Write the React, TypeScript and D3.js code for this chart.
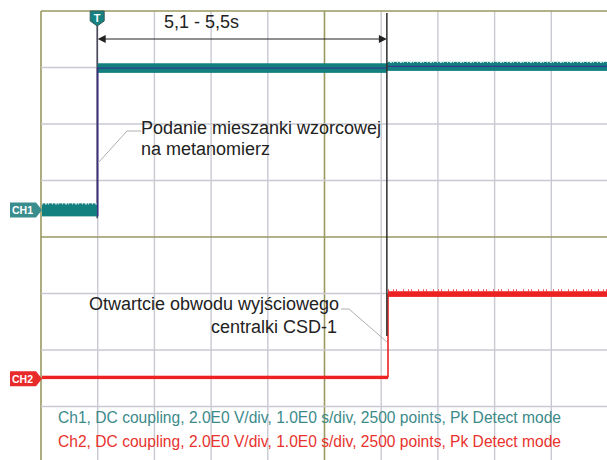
import React, { useEffect, useRef } from 'react';
import * as d3 from 'd3';

// time base: 1 s/div, 10 divisions; vertical: 2 V/div, 8 divisions
const timeDomain = [0, 10];
const divDomain = [0, 8];
const voltsPerDiv = 2;

// channel ground positions (in divisions from top)
const ch1Offset = 3.52;
const ch2Offset = 6.51;

// CH1 trace, Pk Detect envelope per segment
const ch1Edges = [0, 1.0, 6.1, 10];
const ch1Level = [0.0, 5.02, 5.08];
const ch1Noise = [0.23, 0.17, 0.16];

// CH2 trace
const ch2Edges = [0, 6.12, 10];
const ch2Level = [0.05, 3.0];
const ch2Noise = [0.06, 0.1];

const triggerTime = 1.0;
const cursorTime = 6.1;
const cursorLabel = '5,1 - 5,5s';

const note1 = ['Podanie mieszanki wzorcowej', 'na metanomierz'];
const note2 = ['Otwartcie obwodu wyjściowego', 'centralki CSD-1'];
const infoLines = [
  'Ch1, DC coupling, 2.0E0 V/div, 1.0E0 s/div, 2500 points, Pk Detect mode',
  'Ch2, DC coupling, 2.0E0 V/div, 1.0E0 s/div, 2500 points, Pk Detect mode',
];

const TEAL = '#12807f';
const RED = '#ec2222';
const GRID = '#c9c9d2';
const OLIVE = '#999960';
const FONT = 'Arial, "Liberation Sans", sans-serif';

export default function App() {
  const ref = useRef<SVGSVGElement>(null);

  useEffect(() => {
    const svg = d3.select(ref.current);
    svg.selectAll('*').remove();

    const x = d3.scaleLinear().domain(timeDomain).range([41, 608]);
    const yDiv = d3.scaleLinear().domain(divDomain).range([11, 463]);
    const y1 = (v: number) => yDiv(ch1Offset - v / voltsPerDiv);
    const y2 = (v: number) => yDiv(ch2Offset - v / voltsPerDiv);

    // grid
    const g = svg.append('g');
    d3.range(0, 11).forEach(k => {
      g.append('line')
        .attr('x1', x(k)).attr('x2', x(k))
        .attr('y1', yDiv(0)).attr('y2', yDiv(8))
        .attr('stroke', k === 0 || k === 5 ? OLIVE : GRID)
        .attr('stroke-width', k === 0 || k === 5 ? 1.6 : 1.4);
    });
    d3.range(0, 9).forEach(k => {
      g.append('line')
        .attr('x1', x(0)).attr('x2', x(10))
        .attr('y1', yDiv(k)).attr('y2', yDiv(k))
        .attr('stroke', k === 0 || k === 4 ? OLIVE : GRID)
        .attr('stroke-width', k === 0 || k === 4 ? 1.6 : 1.4);
    });

    // cursor line at trigger
    svg.append('line')
      .attr('x1', x(triggerTime) - 0.5).attr('x2', x(triggerTime) - 0.5)
      .attr('y1', yDiv(0) + 14).attr('y2', y1(-0.3))
      .attr('stroke', '#4a4a5a').attr('stroke-width', 1.6);

    // CH1 trace envelope
    ch1Level.forEach((lv, i) => {
      const x0 = x(ch1Edges[i]) + (i === 0 ? 1 : 0);
      const x1 = x(ch1Edges[i + 1]);
      const top = y1(lv + ch1Noise[i]);
      const bot = y1(lv - ch1Noise[i]);
      svg.append('rect')
        .attr('x', x0).attr('y', top)
        .attr('width', x1 - x0).attr('height', bot - top)
        .attr('fill', TEAL);
      svg.append('line')
        .attr('x1', x0).attr('x2', x1)
        .attr('y1', top + 0.5).attr('y2', top + 0.5)
        .attr('stroke', '#ffffff').attr('stroke-width', 1.2)
        .attr('stroke-dasharray', '1 2 2 1 1 3')
        .attr('opacity', i === 1 ? 0 : 0.8);
      if (i > 0) {
        svg.append('line')
          .attr('x1', x0).attr('x2', x1)
          .attr('y1', y1(lv)).attr('y2', y1(lv))
          .attr('stroke', '#303a90').attr('stroke-width', 1.2);
      }
    });
    // CH1 rising edge
    svg.append('line')
      .attr('x1', x(ch1Edges[1])).attr('x2', x(ch1Edges[1]))
      .attr('y1', y1(ch1Level[0] - ch1Noise[0])).attr('y2', y1(ch1Level[1]))
      .attr('stroke', '#3a2f80').attr('stroke-width', 1.6);

    // CH2 trace
    ch2Level.forEach((lv, i) => {
      const x0 = x(ch2Edges[i]) + (i === 0 ? 1 : 0);
      const x1 = x(ch2Edges[i + 1]);
      const top = y2(lv + ch2Noise[i]);
      const bot = y2(lv - ch2Noise[i]);
      svg.append('rect')
        .attr('x', x0).attr('y', top)
        .attr('width', x1 - x0).attr('height', bot - top)
        .attr('fill', RED);
      if (i > 0) {
        svg.append('line')
          .attr('x1', x0).attr('x2', x1)
          .attr('y1', top - 1).attr('y2', top - 1)
          .attr('stroke', RED).attr('stroke-width', 2)
          .attr('stroke-dasharray', '1 4 1 2 1 6')
          .attr('opacity', 0.8);
      }
    });
    svg.append('line')
      .attr('x1', x(ch2Edges[1])).attr('x2', x(ch2Edges[1]))
      .attr('y1', y2(ch2Level[0])).attr('y2', y2(ch2Level[1]))
      .attr('stroke', RED).attr('stroke-width', 1.6);

    // second cursor
    svg.append('line')
      .attr('x1', x(cursorTime)).attr('x2', x(cursorTime))
      .attr('y1', yDiv(0) + 2).attr('y2', yDiv(5.75))
      .attr('stroke', '#2e2e2e').attr('stroke-width', 1.5);

    // measurement arrow
    const ay = 39;
    const ax0 = x(triggerTime);
    const ax1 = x(cursorTime);
    svg.append('line')
      .attr('x1', ax0 + 6).attr('x2', ax1 - 6)
      .attr('y1', ay).attr('y2', ay)
      .attr('stroke', '#222').attr('stroke-width', 1.2);
    svg.append('path')
      .attr('d', `M${ax0},${ay} l8,-4 l0,8 Z M${ax1},${ay} l-8,-4 l0,8 Z`)
      .attr('fill', '#222');
    svg.append('text')
      .attr('x', 164).attr('y', 27.5)
      .attr('font-family', FONT).attr('font-size', 18).attr('fill', '#222')
      .text(cursorLabel);

    // trigger marker
    const tx = x(triggerTime) - 0.5;
    svg.append('path')
      .attr('d', `M${tx - 7},11 L${tx + 7},11 L${tx + 7},21 L${tx},26 L${tx - 7},21 Z`)
      .attr('fill', '#168282').attr('stroke', '#3b5a5a').attr('stroke-width', 1);
    svg.append('text')
      .attr('x', tx).attr('y', 22).attr('text-anchor', 'middle')
      .attr('font-family', FONT).attr('font-size', 11).attr('font-weight', 'bold')
      .attr('fill', '#fff').text('T');

    // channel tags
    const tag = (cy: number, fill: string, label: string) => {
      svg.append('path')
        .attr('d', `M10,${cy - 7.5} L36,${cy - 7.5} L42,${cy} L36,${cy + 7.5} L10,${cy + 7.5} Z`)
        .attr('fill', fill);
      svg.append('text')
        .attr('x', 12).attr('y', cy + 4)
        .attr('font-family', FONT).attr('font-size', 10.5).attr('font-weight', 'bold')
        .attr('fill', '#fff').text(label);
    };
    tag(y1(0), '#3a8d8d', 'CH1');
    tag(y2(0), '#e82a2a', 'CH2');

    // annotations
    svg.append('path')
      .attr('d', `M141,131 L127,131 L98,163`)
      .attr('fill', 'none').attr('stroke', '#b0b0b0').attr('stroke-width', 1);
    note1.forEach((s, i) => {
      svg.append('text')
        .attr('x', 141).attr('y', 134 + i * 21)
        .attr('font-family', FONT).attr('font-size', 18).attr('fill', '#222')
        .text(s);
    });
    svg.append('path')
      .attr('d', `M341,309 L349,309 L387,342`)
      .attr('fill', 'none').attr('stroke', '#b0b0b0').attr('stroke-width', 1);
    svg.append('text')
      .attr('x', 89).attr('y', 310)
      .attr('font-family', FONT).attr('font-size', 18).attr('fill', '#222')
      .text(note2[0]);
    svg.append('text')
      .attr('x', 337).attr('y', 333).attr('text-anchor', 'end')
      .attr('font-family', FONT).attr('font-size', 18).attr('fill', '#222')
      .text(note2[1]);

    // settings info
    infoLines.forEach((s, i) => {
      svg.append('text')
        .attr('x', 58).attr('y', 423 + i * 24)
        .attr('font-family', FONT).attr('font-size', 15.6)
        .attr('fill', i === 0 ? '#3c8a8a' : '#e8322e')
        .text(s);
    });
  }, []);

  return (
    <svg ref={ref} width={607} height={460}
      style={{ position: 'absolute', left: 0, top: 0, background: '#fff' }} />
  );
}
